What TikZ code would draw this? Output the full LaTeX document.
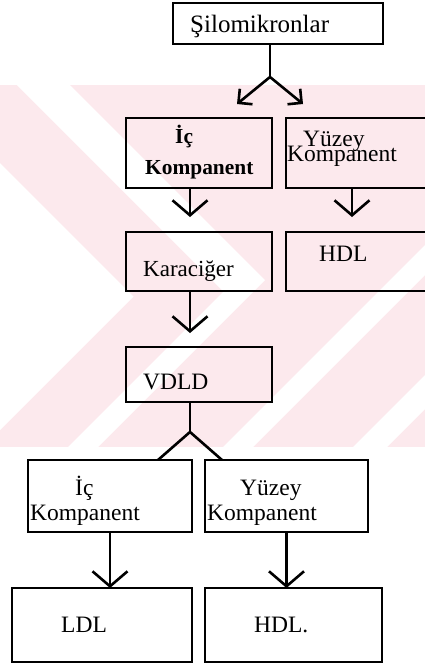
\documentclass[tikz,border=0pt]{standalone}
\usepackage{fontspec}
\setmainfont{Liberation Serif}
\usetikzlibrary{arrows.meta}
\definecolor{wm}{RGB}{252,233,237}
\begin{document}
\begin{tikzpicture}[x=1pt,y=-1pt,
  box/.style={draw=black, line width=2.2pt, rectangle, inner sep=0pt, outer sep=0pt},
  txt/.style={anchor=base west, inner sep=0pt, font=\fontsize{23.5}{24}\selectfont},
  btxt/.style={anchor=base west, inner sep=0pt, font=\fontsize{21.4}{22}\selectfont\bfseries},
  conn/.style={line width=2.6pt, line join=miter},
  arr/.style={conn, -{Straight Barb[length=15pt,width=35pt]}},
  darr/.style={conn, {Straight Barb[length=10pt,width=20pt]}-{Straight Barb[length=10pt,width=20pt]}}
]
\useasboundingbox (0,0) rectangle (425,664);
\clip (0,0) rectangle (425,664);
\fill[white] (0,0) rectangle (425,664);
% watermark
\fill[wm] (0,85) rectangle (425,447);
\fill[white] (0,163) -- (133.5,296.5) -- (0,430) -- cycle;
\fill[white] (17,85) -- (70,85) -- (265,280) -- (98,447) -- (68,447) -- (223.5,291.5) -- cycle;
\fill[white] (223,447) -- (253,447) -- (425,275) -- (425,245) -- cycle;
\fill[white] (353,447) -- (387,447) -- (425,409) -- (425,375) -- cycle;

% boxes
\node[box, minimum width=210pt, minimum height=41pt] (sil) at (278,23.5) {};
\node[box, minimum width=146pt, minimum height=70pt] (ic1) at (199,153) {};
\node[box, minimum width=142pt, minimum height=70pt] (yz1) at (357,153) {};
\node[box, minimum width=146pt, minimum height=59pt] (kar) at (199,261.5) {};
\node[box, minimum width=142pt, minimum height=59pt] (hdl1) at (357,261.5) {};
\node[box, minimum width=146pt, minimum height=55pt] (vdld) at (199,374.5) {};
\node[box, minimum width=164pt, minimum height=72pt] (ic2) at (110,496) {};
\node[box, minimum width=163pt, minimum height=72pt] (yz2) at (286.5,496) {};
\node[box, minimum width=180pt, minimum height=74pt] (ldl) at (102,625) {};
\node[box, minimum width=177pt, minimum height=74pt] (hdl2) at (293.5,625) {};

% texts
\node[txt, font=\fontsize{25}{26}\selectfont] (tsil) at (190,32) {Şilomikronlar};
\node[btxt] (tic1a) at (175,143) {İç};
\node[btxt] (tic1b) at (145,174) {Kompanent};
\node[txt] (tyz1a) at (303,146) {Yüzey};
\node[txt] (tyz1b) at (287,161) {Kompanent};
\node[txt, font=\fontsize{23}{24}\selectfont] (tkar) at (143,276) {Karaciğer};
\node[txt] (thdl1) at (319,261) {HDL};
\node[txt] (tvdld) at (143,389) {VDLD};
\node[txt] (tic2a) at (75,495) {İç};
\node[txt] (tic2b) at (30,520) {Kompanent};
\node[txt] (tyz2a) at (240,495) {Yüzey};
\node[txt] (tyz2b) at (207,520) {Kompanent};
\node[txt] (tldl) at (61,632) {LDL};
\node[txt] (thdl2) at (254,632) {HDL.};

% connectors
\coordinate (s1) at (270,77);
\coordinate (s1l) at (237,104);
\coordinate (s1r) at (303,104);
\draw[conn] ([xshift=-8pt]sil.south) -- (s1);
\draw[darr] (s1l) -- (s1) -- (s1r);

\draw[arr, shorten >=15pt] ([xshift=-9pt]ic1.south) -- ([xshift=-9pt]kar.north);
\draw[arr, shorten >=15pt] ([xshift=-5pt]yz1.south) -- ([xshift=-5pt]hdl1.north);
\draw[arr, shorten >=14pt] ([xshift=-9pt]kar.south) -- ([xshift=-9pt]vdld.north);

\coordinate (a2) at (190,432);
\draw[conn] ([xshift=-9pt]vdld.south) -- (a2);
\draw[conn] ([xshift=-34pt]ic2.north east) -- (a2) -- ([xshift=17pt]yz2.north west);

\draw[arr] (ic2.south) -- (ic2.south |- ldl.north);
\draw[arr] (yz2.south) -- (yz2.south |- hdl2.north);
\end{tikzpicture}
\end{document}
